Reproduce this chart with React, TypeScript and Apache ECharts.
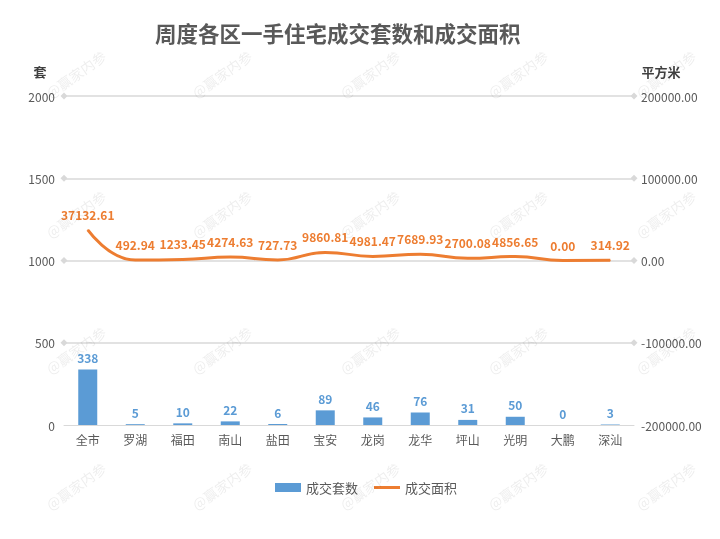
import React, { useEffect, useRef } from "react";
import * as echarts from "echarts";

const categories = ["全市", "罗湖", "福田", "南山", "盐田", "宝安", "龙岗", "龙华", "坪山", "光明", "大鹏", "深汕"];
const unitCounts = [338, 5, 10, 22, 6, 89, 46, 76, 31, 50, 0, 3];
const areaValues = [37132.61, 492.94, 1233.45, 4274.63, 727.73, 9860.81, 4981.47, 7689.93, 2700.08, 4856.65, 0.0, 314.92];
const gridTicks = [500, 1000, 1500, 2000];
const seriesNames = ["成交套数", "成交面积"];
const axisNames = ["套", "平方米"];
const titleText = "周度各区一手住宅成交套数和成交面积";
const watermarkText = "@赢家内参";

const FONT = "'Microsoft YaHei', 'Noto Sans CJK SC', sans-serif";
const BLUE = "#5B9BD5";
const ORANGE = "#ED7D31";

export default function App() {
  const ref = useRef<HTMLDivElement>(null);

  useEffect(() => {
    if (!ref.current) return;
    const chart = echarts.init(ref.current, null, { renderer: "svg" });

    const wmCols = [76, 222, 370, 518, 666];
    const wmRows = [74, 214, 350, 486];
    const watermarks: any[] = [];
    wmRows.forEach((y) =>
      wmCols.forEach((x) =>
        watermarks.push({
          type: "text",
          x,
          y,
          rotation: (35 * Math.PI) / 180,
          silent: true,
          z: 100,
          style: {
            text: watermarkText,
            fontSize: 14,
            fontFamily: FONT,
            fill: "rgba(0,0,0,0.07)",
            align: "center",
            verticalAlign: "middle",
          },
        })
      )
    );

    chart.setOption({
      animation: false,
      textStyle: { fontFamily: FONT },
      title: {
        text: titleText,
        left: 150,
        top: 17,
        textStyle: { fontSize: 21.5, fontWeight: "bold", color: "#595959", fontFamily: FONT },
      },
      grid: { left: 64, right: 86, top: 96, bottom: 114, containLabel: false },
      legend: {
        bottom: 40,
        left: 270,
        itemWidth: 26,
        itemHeight: 9,
        itemGap: 16,
        textStyle: { fontSize: 13, color: "#595959", fontFamily: FONT },
        data: [
          { name: seriesNames[0], icon: "rect" },
          { name: seriesNames[1], icon: "path://M0 0 H26 V3 H0 Z" },
        ],
      },
      xAxis: {
        type: "category",
        data: categories,
        axisTick: { show: false },
        axisLine: { lineStyle: { color: "#d9d9d9", width: 1 } },
        axisLabel: { color: "#595959", fontSize: 12, margin: 8 },
      },
      yAxis: [
        {
          type: "value",
          min: 0,
          max: 2000,
          interval: 500,
          name: axisNames[0],
          nameLocation: "end",
          nameGap: 18,
          nameTextStyle: { fontSize: 13, fontWeight: "bold", color: "#404040", align: "center", padding: [0, 48, 0, 0] },
          axisLine: { show: false },
          axisTick: { show: false },
          splitLine: { show: false },
          axisLabel: { color: "#595959", fontSize: 12, margin: 9, formatter: (v: number) => String(v) },
        },
        {
          type: "value",
          min: -200000,
          max: 200000,
          interval: 100000,
          name: axisNames[1],
          nameLocation: "end",
          nameGap: 18,
          nameTextStyle: { fontSize: 13, fontWeight: "bold", color: "#404040", align: "center", padding: [0, 0, 0, 54] },
          axisLine: { show: false },
          axisTick: { show: false },
          splitLine: { show: false },
          axisLabel: {
            color: "#595959",
            fontSize: 12,
            margin: 7,
            formatter: (v: number) => v.toFixed(2),
          },
        },
      ],
      series: [
        {
          name: seriesNames[0],
          type: "bar",
          yAxisIndex: 0,
          data: unitCounts,
          barWidth: 19,
          itemStyle: { color: BLUE },
          label: {
            show: true,
            position: "top",
            distance: 6,
            color: BLUE,
            fontWeight: "bold",
            fontSize: 12,
          },
          markLine: {
            silent: true,
            symbol: ["diamond", "diamond"],
            symbolSize: 7,
            label: { show: false },
            emphasis: { disabled: true },
            lineStyle: { color: "#d9d9d9", width: 1.5, type: "solid" },
            data: gridTicks.map((v) => ({ yAxis: v })),
          },
        },
        {
          name: seriesNames[1],
          type: "line",
          yAxisIndex: 1,
          data: areaValues,
          smooth: 0.5,
          symbol: "circle",
          symbolSize: 1,
          showSymbol: true,
          z: 5,
          lineStyle: { color: ORANGE, width: 3 },
          itemStyle: { color: ORANGE },
          label: {
            show: true,
            position: "top",
            distance: 9,
            color: ORANGE,
            fontWeight: "bold",
            fontSize: 12,
            formatter: (p: any) => Number(p.value).toFixed(2),
          },
        },
      ],
      graphic: watermarks,
    });

    return () => chart.dispose();
  }, []);

  return <div ref={ref} style={{ position: "fixed", left: 0, top: 0, width: 720, height: 539 }} />;
}
